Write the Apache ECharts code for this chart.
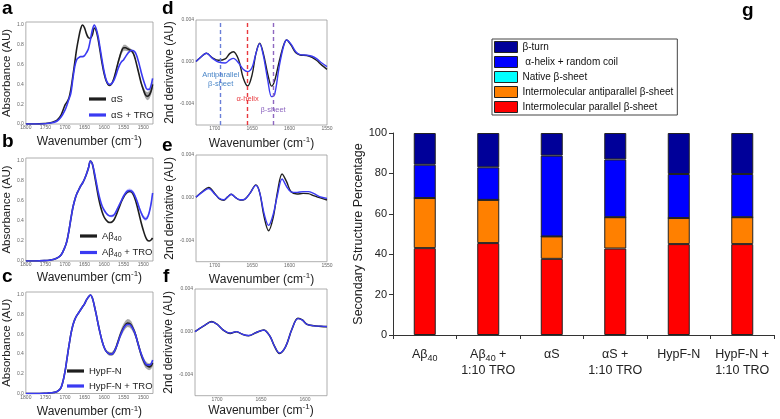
<!DOCTYPE html>
<html><head><meta charset="utf-8">
<script src="https://cdn.jsdelivr.net/npm/echarts@6/dist/echarts.min.js"></script>
<style>html,body{margin:0;padding:0;background:#fff}#c{width:780px;height:419px}</style>
</head><body><div id="c"></div>
<script>
// ---------------- DATA ----------------
// Panels a-c: absorbance spectra (wavenumber, cm-1)
const wnAbs = [1800,1775,1750,1740,1730,1720,1710,1700,
  1695,1690,1685,1680,1675,1670,1665,1660,1655,1650,
  1645,1640,1635,1630,1625,1620,1615,1610,1605,1600,
  1595,1590,1585,1580,1575,1570,1565,1560,1555,1550,
  1545,1540,1535,1530,1525,1520,1515,1510,1505,1500,
  1495,1490,1485,1480,1476];
const absA_aS = [0,0,0.005,0.01,0.02,0.04,0.09,0.19,
  0.22,0.26,0.35,0.48,0.62,0.76,0.87,0.96,1.0,0.97,
  0.91,0.87,0.865,0.9,0.97,0.94,0.85,0.73,0.61,0.51,
  0.44,0.4,0.39,0.41,0.46,0.53,0.61,0.68,0.74,0.77,
  0.77,0.76,0.75,0.74,0.71,0.65,0.57,0.49,0.41,0.35,
  0.3,0.28,0.29,0.33,0.4];
const absA_aSTRO = [0,0,0.003,0.008,0.015,0.03,0.07,0.14,
  0.19,0.25,0.31,0.45,0.58,0.65,0.67,0.68,0.68,0.69,
  0.72,0.76,0.85,0.95,1.0,0.96,0.88,0.76,0.64,0.53,
  0.45,0.41,0.4,0.41,0.44,0.49,0.55,0.6,0.63,0.65,
  0.68,0.71,0.73,0.745,0.74,0.72,0.67,0.6,0.52,0.45,
  0.39,0.35,0.35,0.39,0.46];
const bandA_aS = [0,0,0,0,0,0,0,0,
  0,0,0,0,0,0,0,0,0,0,
  0,0,0,0,0,0,0,0,0,0,
  0,0,0,0,0.01,0.02,0.025,0.03,0.03,0.03,
  0.03,0.025,0.02,0.015,0.01,0.01,0.01,0.015,0.02,0.03,
  0.035,0.04,0.04,0.04,0.04];

const absB_Ab = [0,0,0.004,0.008,0.015,0.03,0.06,0.14,
  0.2,0.3,0.42,0.53,0.61,0.67,0.71,0.75,0.78,0.82,
  0.87,0.93,1.0,0.97,0.87,0.76,0.65,0.56,0.49,0.44,
  0.41,0.39,0.385,0.39,0.41,0.45,0.5,0.55,0.6,0.64,
  0.67,0.69,0.695,0.69,0.66,0.61,0.54,0.46,0.38,0.31,
  0.25,0.21,0.2,0.21,0.23];
const absB_AbTRO = [0,0,0.004,0.008,0.015,0.03,0.06,0.14,
  0.2,0.3,0.42,0.53,0.61,0.67,0.71,0.75,0.78,0.82,
  0.87,0.93,1.0,0.97,0.89,0.79,0.69,0.61,0.55,0.51,
  0.48,0.46,0.45,0.45,0.46,0.49,0.53,0.57,0.61,0.65,
  0.68,0.7,0.705,0.7,0.68,0.64,0.59,0.53,0.48,0.44,
  0.42,0.43,0.48,0.57,0.68];
const bandB_AbTRO = [0,0,0,0,0,0,0,0,
  0,0,0,0,0,0,0,0,0,0,
  0,0,0,0,0,0,0,0,0,0,
  0,0,0.01,0.015,0.015,0.015,0.02,0.02,0.02,0.02,
  0.02,0.02,0.02,0.02,0.02,0.02,0.02,0.02,0.02,0.02,
  0.02,0.02,0.02,0.025,0.03];

const absC_H = [0,0,0.003,0.006,0.01,0.02,0.06,0.22,
  0.35,0.48,0.6,0.69,0.75,0.79,0.82,0.85,0.88,0.91,
  0.95,0.98,1.0,0.97,0.89,0.8,0.7,0.61,0.53,0.47,
  0.43,0.41,0.4,0.4,0.42,0.46,0.52,0.58,0.63,0.67,
  0.7,0.715,0.71,0.69,0.65,0.6,0.53,0.46,0.39,0.34,
  0.3,0.28,0.27,0.28,0.31];
const absC_HTRO = [0,0,0.003,0.006,0.01,0.02,0.06,0.22,
  0.35,0.48,0.6,0.69,0.75,0.79,0.82,0.85,0.88,0.91,
  0.95,0.98,1.0,0.97,0.89,0.8,0.7,0.61,0.53,0.47,
  0.43,0.41,0.4,0.4,0.42,0.46,0.51,0.57,0.62,0.66,
  0.69,0.7,0.7,0.68,0.645,0.6,0.53,0.46,0.4,0.35,
  0.31,0.29,0.29,0.3,0.34];
const bandC_H = [0,0,0,0,0,0,0,0,
  0,0,0,0,0,0,0,0,0,0,
  0,0,0,0,0,0,0,0,0,0,
  0.015,0.02,0.02,0.02,0.025,0.03,0.03,0.035,0.04,0.04,
  0.04,0.04,0.04,0.04,0.035,0.035,0.035,0.035,0.035,0.035,
  0.035,0.035,0.035,0.035,0.035];

// Panels d-f: second derivative (units of 1e-3 AU)
const wnD = [1725,1718,1711,1703,1695,1686,1680,1675,1668,1662,1656,1650,1645,1640,1635,1629,1624,1620,1614,1608,1604,1598,1592,1586,1577,1570,1564,1557,1550];
const d2D_aS = [0.05,0.5,0.83,0.4,0.16,0.3,0.8,0.98,0.2,-1.5,-2.29,-1.2,0.8,1.78,0.8,-1.2,-2.3,-1.8,0.0,1.6,2.1,1.6,0.9,0.67,0.62,0.45,0.16,-0.3,-0.7];
const d2D_aSTRO = [0.05,0.5,0.83,0.35,0.0,-0.1,0.2,0.35,-0.1,-0.7,-0.92,-0.5,0.8,1.75,0.6,-1.8,-3.3,-3.1,-0.5,1.5,2.1,1.7,1.0,0.7,0.65,0.55,0.32,-0.1,-0.44];
const wnE = [1725,1716,1708,1700,1694,1688,1683,1678,1672,1666,1660,1653,1645,1640,1634,1628,1622,1616,1610,1604,1598,1590,1582,1575,1568,1560,1550];
const d2E_Ab = [0.05,0.6,0.95,0.4,-0.1,-0.25,0.05,0.32,0.0,-0.22,-0.15,0.4,1.2,0.5,-1.8,-3.1,-1.9,0.6,2.22,1.5,0.55,0.35,0.4,0.38,0.2,0.0,-0.22];
const d2E_AbTRO = [0.05,0.55,0.85,0.35,-0.05,-0.2,0.05,0.32,0.0,-0.2,-0.15,0.4,1.15,0.5,-1.5,-2.6,-1.6,0.3,1.75,1.05,0.55,0.5,0.57,0.57,0.4,0.1,-0.06];
const wnF = [1725,1715,1706,1700,1693,1685,1678,1671,1664,1656,1647,1640,1635,1629,1622,1615,1608,1603,1598,1590,1582,1575];
const d2F_H = [0.0,0.55,0.94,0.7,0.16,-0.16,0.0,-0.25,-0.38,-0.1,0.16,-0.4,-1.3,-2.04,-1.4,0.2,1.26,1.1,0.7,0.55,0.5,0.47];
const d2F_HTRO = [0.0,0.55,0.92,0.7,0.16,-0.14,0.0,-0.25,-0.36,-0.1,0.15,-0.4,-1.3,-2.0,-1.4,0.2,1.22,1.08,0.7,0.55,0.52,0.48];

// Panel d band markers
const markerWn = [1692, 1656, 1622];
const markerText = ['Antiparallel\nβ-sheet', 'α-helix', 'β-sheet'];
const markerTextY = [-1.62, -3.5, -4.57];

// Panel g: secondary structure percentages
const categories = ['Aβ40', 'Aβ40 +\n1:10 TRO', 'αS', 'αS +\n1:10 TRO', 'HypF-N', 'HypF-N +\n1:10 TRO'];
const parallelSheet = [43.0, 45.5, 37.7, 42.8, 45.0, 45.0];
const antiparallelSheet = [24.8, 21.4, 11.1, 15.5, 12.9, 13.3];
const nativeSheet = [0, 0, 0, 0, 0, 0];
const helixCoil = [16.5, 16.1, 40.0, 28.6, 21.8, 21.4];
const betaTurn = [15.7, 17.0, 11.2, 13.1, 20.3, 20.3];
const structNames = ['β-turn', ' α-helix + random coil', 'Native β-sheet', 'Intermolecular antiparallel β-sheet', 'Intermolecular parallel β-sheet'];

// ---------------- CHART ----------------
const FONT = '"Liberation Sans", Arial, Helvetica, sans-serif';
const BLACK = '#1e1e1e', BLUE = '#3a3af2';
const chart = echarts.init(document.getElementById('c'), null, {renderer: 'canvas'});

const gridBox = {show: true, borderColor: '#9a9a9a', borderWidth: 0.8, backgroundColor: 'transparent'};
const grids = [
  {left: 22, top: 22, width: 131, height: 102},
  {left: 22, top: 158, width: 131, height: 103},
  {left: 22, top: 292, width: 131, height: 102.3},
  {left: 196, top: 20, width: 131, height: 105},
  {left: 196, top: 155, width: 131, height: 106.7},
  {left: 195, top: 289, width: 132, height: 106.7},
  {left: 393, top: 133, width: 381, height: 202}
].map((g, i) => i < 6 ? Object.assign({}, gridBox, g) : g);

const smallLbl = {fontSize: 5, color: '#666', margin: 2};
function specX(gi, min, max, interval, nameGap) {
  return {type: 'value', gridIndex: gi, min, max, interval, inverse: true,
    name: 'Wavenumber (cm{sup|-1})', nameLocation: 'middle', nameGap,
    nameTextStyle: {fontSize: 12, color: '#222', fontFamily: FONT, verticalAlign: 'top',
      rich: {sup: {fontSize: 8, color: '#222', padding: [0, 0, 7, 0]}}},
    axisLine: {show: false}, axisTick: {show: false}, splitLine: {show: false},
    axisLabel: Object.assign({}, smallLbl, {margin: 1.5, formatter: v => (v % 50 === 0 ? String(v) : '')})};
}
function absY(gi) {
  return {type: 'value', gridIndex: gi, min: 0, max: 1.03, interval: 0.2,
    name: 'Absorbance (AU)', nameLocation: 'middle', nameGap: 8,
    nameTextStyle: {fontSize: 11.5, color: '#222', fontFamily: FONT},
    axisLine: {show: false}, axisTick: {show: false}, splitLine: {show: false},
    axisLabel: Object.assign({}, smallLbl, {formatter: v => (Math.abs(v * 5 - Math.round(v * 5)) < 1e-6 ? v.toFixed(1) : '')})};
}
function derY(gi) {
  return {type: 'value', gridIndex: gi, min: -6, max: 4, interval: 2,
    name: '2nd derivative (AU)', nameLocation: 'middle', nameGap: 18,
    nameTextStyle: {fontSize: 12, color: '#222', fontFamily: FONT},
    axisLine: {show: false}, axisTick: {show: false}, splitLine: {show: false},
    axisLabel: Object.assign({}, smallLbl, {formatter: v => {
      const r = Math.round(v);
      return (Math.abs(v - r) < 1e-6 && (r === 4 || r === 0 || r === -4)) ? (r / 1000).toFixed(3) : '';
    }})};
}

function lineS(name, gi, wn, vals, color, width) {
  return {name, type: 'line', xAxisIndex: gi, yAxisIndex: gi, smooth: 0.35, symbol: 'none',
    lineStyle: {color, width: width || 1.6}, itemStyle: {color}, z: 3,
    data: wn.map((w, i) => [w, vals[i]])};
}
function bandS(gi, wn, center, half, color) {
  return {type: 'custom', xAxisIndex: gi, yAxisIndex: gi, silent: true, z: 2,
    data: wn.map((w, i) => [w, center[i] - half[i], center[i] + half[i]]),
    renderItem(params, api) {
      if (params.dataIndex !== 0) return null;
      const up = [], lo = [];
      for (let i = 0; i < wn.length; i++) {
        up.push(api.coord([wn[i], center[i] + half[i]]));
        lo.push(api.coord([wn[i], center[i] - half[i]]));
      }
      return {type: 'polygon', shape: {points: up.concat(lo.reverse())}, style: {fill: color}};
    }};
}

const markerColors = ['#6a7fd8', '#e8383d', '#8e67c0'];
const markerTextColors = ['#4a86c8', '#e8383d', '#8e67c0'];
const dSeries = lineS('αS d2', 3, wnD, d2D_aS, BLACK, 1.4);
dSeries.markLine = {silent: true, symbol: ['none', 'none'], label: {show: false},
  lineStyle: {type: [4, 3], width: 1.4},
  data: markerWn.map((w, i) => ({xAxis: w, lineStyle: {color: markerColors[i]}}))};
dSeries.markPoint = {silent: true, symbol: 'circle', symbolSize: 0,
  data: markerWn.map((w, i) => ({coord: [w, markerTextY[i]],
    label: {show: true, position: 'inside', formatter: markerText[i], color: markerTextColors[i],
      fontSize: 7.5, lineHeight: 9, fontFamily: FONT}}))};

const subRich = (fs, pad) => ({sub: {fontSize: fs, padding: [pad, 0, 0, 0]}});
const fmtSub = n => n.replace('β40', 'β{sub|40}');

function specLegend(names, left, top, gap) {
  return {orient: 'vertical', left, top, data: names, icon: 'rect', itemWidth: 17, itemHeight: 3.2, itemGap: gap,
    padding: 0, formatter: fmtSub,
    textStyle: {fontSize: 9.5, color: '#222', fontFamily: FONT, rich: subRich(7, 6)}};
}

const barBase = {type: 'bar', xAxisIndex: 6, yAxisIndex: 6, stack: 'g', barWidth: 22};
const barStyle = c => ({color: c, borderColor: '#222', borderWidth: 1});

const letters = [['a', 2, 8.5], ['b', 2, 141.5], ['c', 2, 276], ['d', 162, 8.5], ['e', 162, 145.5], ['f', 163, 276.5], ['g', 742, 10]];

const option = {
  animation: false,
  textStyle: {fontFamily: FONT},
  grid: grids,
  xAxis: [
    specX(0, 1475, 1800, 25, 10),
    specX(1, 1475, 1800, 25, 9),
    specX(2, 1475, 1800, 25, 11),
    specX(3, 1550, 1725, 50, 11),
    specX(4, 1550, 1725, 50, 10),
    specX(5, 1575, 1725, 25, 6),
    {type: 'category', gridIndex: 6, data: categories,
      axisLine: {lineStyle: {color: '#333', width: 1}},
      axisTick: {show: true, length: 4, lineStyle: {color: '#333'}},
      axisLabel: {interval: 0, fontSize: 12.5, color: '#222', lineHeight: 16, margin: 12,
        fontFamily: FONT, formatter: fmtSub, rich: subRich(9, 8)}}
  ],
  yAxis: [
    absY(0), absY(1), absY(2), derY(3), derY(4), derY(5),
    {type: 'value', gridIndex: 6, min: 0, max: 100, interval: 20,
      name: 'Secondary Structure Percentage', nameLocation: 'middle', nameGap: 27,
      nameTextStyle: {fontSize: 12.5, color: '#222', fontFamily: FONT},
      axisLine: {show: true, lineStyle: {color: '#333'}},
      axisTick: {show: true, length: 4, lineStyle: {color: '#333'}},
      axisLabel: {fontSize: 11, color: '#222', margin: 6},
      splitLine: {show: false}}
  ],
  legend: [
    specLegend(['αS', 'αS + TRO'], 89, 94, 6),
    specLegend(['Aβ40', 'Aβ40 + TRO'], 80, 231, 5),
    specLegend(['HypF-N', 'HypF-N + TRO'], 67, 366, 5),
    {orient: 'vertical', left: 492, top: 39, data: structNames, itemWidth: 23, itemHeight: 11, itemGap: 3,
      padding: [2, 4, 2, 2], borderColor: '#444', borderWidth: 1, backgroundColor: '#fff', borderRadius: 0,
      icon: 'rect', itemStyle: {borderColor: '#222', borderWidth: 1},
      textStyle: {fontSize: 10, color: '#111', fontFamily: FONT}}
  ],
  graphic: letters.map(([t, x, y]) => ({type: 'text', left: x, top: y - 9,
    style: {text: t, fontSize: 19, fontWeight: 'bold', fill: '#000', fontFamily: FONT}})),
  series: [
    bandS(0, wnAbs, absA_aS, bandA_aS, 'rgba(60,60,60,0.45)'),
    lineS('αS', 0, wnAbs, absA_aS, BLACK),
    lineS('αS + TRO', 0, wnAbs, absA_aSTRO, BLUE),
    bandS(1, wnAbs, absB_AbTRO, bandB_AbTRO, 'rgba(80,80,255,0.35)'),
    lineS('Aβ40', 1, wnAbs, absB_Ab, BLACK),
    lineS('Aβ40 + TRO', 1, wnAbs, absB_AbTRO, BLUE),
    bandS(2, wnAbs, absC_H, bandC_H, 'rgba(60,60,60,0.45)'),
    lineS('HypF-N', 2, wnAbs, absC_H, BLACK),
    lineS('HypF-N + TRO', 2, wnAbs, absC_HTRO, BLUE),
    dSeries,
    lineS('αS + TRO d2', 3, wnD, d2D_aSTRO, BLUE, 1.4),
    lineS('Aβ40 d2', 4, wnE, d2E_Ab, BLACK, 1.4),
    lineS('Aβ40 + TRO d2', 4, wnE, d2E_AbTRO, BLUE, 1.4),
    lineS('HypF-N d2', 5, wnF, d2F_H, BLACK, 1.6),
    lineS('HypF-N + TRO d2', 5, wnF, d2F_HTRO, BLUE, 1.3),
    Object.assign({name: structNames[4], data: parallelSheet, itemStyle: barStyle('#ff0000')}, barBase),
    Object.assign({name: structNames[3], data: antiparallelSheet, itemStyle: barStyle('#ff8000')}, barBase),
    Object.assign({name: structNames[2], data: nativeSheet, itemStyle: barStyle('#00ffff')}, barBase),
    Object.assign({name: structNames[1], data: helixCoil, itemStyle: barStyle('#0000ff')}, barBase),
    Object.assign({name: structNames[0], data: betaTurn, itemStyle: barStyle('#000099')}, barBase)
  ]
};
chart.setOption(option);
</script>
</body></html>
